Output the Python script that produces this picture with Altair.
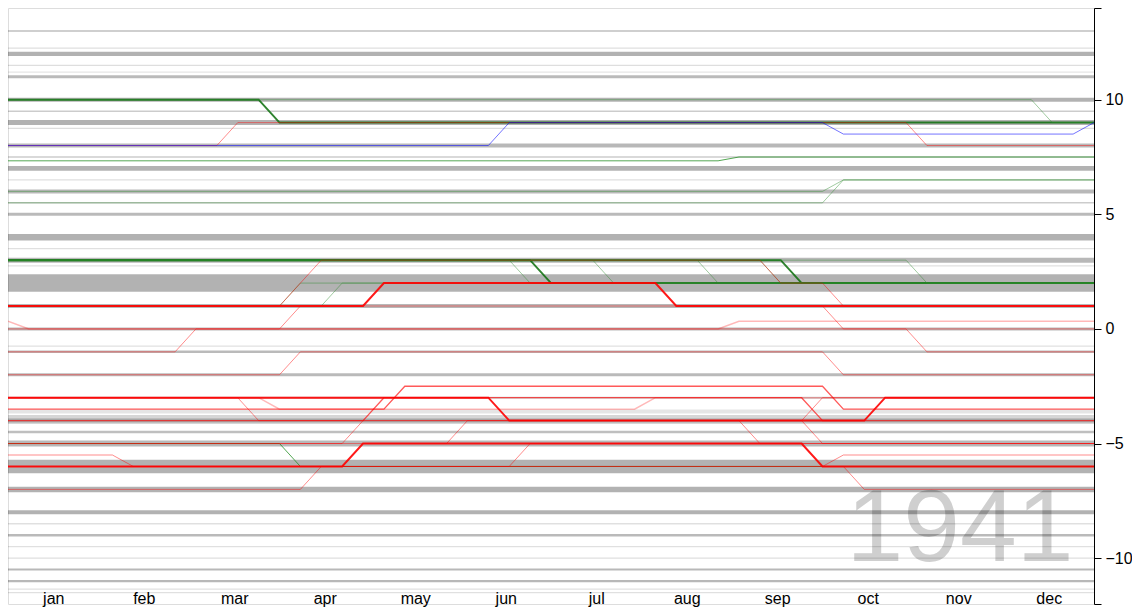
import altair as alt
import pandas as pd

# ---------------------------------------------------------------- data ----
YEAR = "1941"
MONTHS = ["jan", "feb", "mar", "apr", "may", "jun",
          "jul", "aug", "sep", "oct", "nov", "dec"]
WEEKS_IN_YEAR = 52
Y_TICKS = [-12, -10, -5, 0, 5, 10, 14]

# UTC offsets (hours) of the zones that keep the same offset all year
STATIC_OFFSETS = [13, 12.25, 12, 11.5, 11.2, 11, 10, 9.5, 9, 8.75, 8, 7.5, 7,
                  6.5, 6, 5.5, 5, 4, 3.5, 3, 2.75, 2, 1, 0, -0.75, -1, -2, -3,
                  -3.6, -3.95, -4, -4.5, -5, -6, -7, -8, -8.5, -9, -9.5, -10,
                  -10.5, -11, -11.35, -11.5]

# zones whose offset changes during the year: (week, offset) vertices
Z_T1 = [(0, 10), (12, 10), (13, 9), (52, 9)]
Z_T2 = [(0, 10), (49, 10), (50, 9), (52, 9)]
Z_T3 = [(0, 8), (10, 8), (11, 9), (43, 9), (44, 8), (52, 8)]
Z_T4 = [(0, 8), (23, 8), (24, 9), (39, 9), (40, 8.5), (51, 8.5), (52, 9)]
Z_T5 = [(0, 7.333), (34, 7.333), (35, 7.5), (52, 7.5)]
Z_T6 = [(0, 6), (39, 6), (40, 6.5), (52, 6.5)]
Z_T7 = [(0, 5.5), (39, 5.5), (40, 6.5), (52, 6.5)]
Z_M1 = [(0, 3), (25, 3), (26, 2), (52, 2)]
Z_M2 = [(0, 3), (37, 3), (38, 2), (52, 2)]
Z_M3 = [(0, 3), (24, 3), (25, 2), (52, 2)]
Z_M4 = [(0, 3), (28, 3), (29, 2), (52, 2)]
Z_M5 = [(0, 3), (33, 3), (34, 2), (52, 2)]
Z_M6 = [(0, 3), (43, 3), (44, 2), (52, 2)]
Z_M7 = [(0, 1), (13, 1), (15, 3), (36, 3), (37, 2), (39, 2), (40, 1), (52, 1)]
Z_M8 = [(0, 3), (36, 3), (37, 2), (52, 2)]
Z_M9 = [(0, 1), (13, 1), (14, 2), (52, 2)]
Z_M10 = [(0, 1), (15, 1), (16, 2), (52, 2)]
Z_H = [(0, 1), (17, 1), (18, 2), (31, 2), (32, 1), (52, 1)]
Z_A = [(0, -1), (8, -1), (9, 0), (43, 0), (44, -1), (52, -1)]
Z_B = [(0, -2), (13, -2), (14, -1), (39, -1), (40, -2), (52, -2)]
Z_C = [(0, 0), (13, 0), (14, 1), (39, 1), (40, 0), (52, 0)]
Z_D = [(0, 0.333), (1, 0), (34, 0), (35, 0.333), (52, 0.333)]
Z_LA = [(0, -3), (11, -3), (12, -4), (38, -4), (39, -3), (52, -3)]
Z_LB = [(0, -3), (12, -3), (13, -3.5), (30, -3.5), (31, -3), (52, -3)]
Z_LC = [(0, -3.5), (18, -3.5), (19, -2.5), (39, -2.5), (40, -3.5), (52, -3.5)]
Z_LD = [(0, -5), (13, -5), (14, -6), (52, -6)]
Z_LE = [(0, -7), (14, -7), (15, -6), (40, -6), (41, -7), (52, -7)]
Z_LF = [(0, -5), (16, -5), (17, -4), (38, -4), (39, -5), (52, -5)]
Z_LG = [(0, -4), (17, -4), (18, -3), (38, -3), (39, -4), (52, -4)]
Z_LH = [(0, -3), (23, -3), (24, -4), (41, -4), (42, -3), (52, -3)]
Z_LI = [(0, -6), (16, -6), (17, -5), (38, -5), (39, -6), (52, -6)]
Z_LJ = [(0, -5), (21, -5), (22, -4), (35, -4), (36, -5), (52, -5)]
Z_LK = [(0, -6), (24, -6), (25, -5), (52, -5)]
Z_LL = [(0, -5.5), (5, -5.5), (6, -6), (39, -6), (40, -5.5), (52, -5.5)]

ZONES = {
    "T1": Z_T1, "T2": Z_T2, "T3": Z_T3, "T4": Z_T4, "T5": Z_T5, "T6": Z_T6,
    "T7": Z_T7, "M1": Z_M1, "M2": Z_M2, "M3": Z_M3, "M4": Z_M4, "M5": Z_M5,
    "M6": Z_M6, "M8": Z_M8, "M9": Z_M9, "M10": Z_M10, "M7": Z_M7, "H": Z_H,
    "A": Z_A, "B": Z_B, "C": Z_C, "D": Z_D, "LA": Z_LA, "LB": Z_LB,
    "LC": Z_LC, "LD": Z_LD, "LE": Z_LE, "LF": Z_LF, "LG": Z_LG, "LH": Z_LH,
    "LI": Z_LI, "LJ": Z_LJ, "LK": Z_LK, "LL": Z_LL,
}

# -------------------------------------------------------------- styles ----
# gray static lines: (stroke width, alpha of black)
GRAY_STYLE = {
    13: (1.5, 0.25), 12.25: (1.2, 0.13), 12: (4.3, 0.3), 11.5: (1.2, 0.13),
    11.2: (1.2, 0.1), 11: (3, 0.27), 10: (4, 0.3), 9.5: (1.5, 0.2),
    9: (5, 0.3), 8.75: (1.2, 0.13), 8: (4, 0.28), 7.5: (1.5, 0.2),
    7: (4.7, 0.3), 6.5: (1.3, 0.13), 6: (4, 0.28), 5.5: (1.5, 0.2),
    5: (3, 0.27), 4: (6.5, 0.3), 3.5: (1.3, 0.12), 3: (5, 0.28),
    2.75: (1.3, 0.12), 2: (17.5, 0.3), 1: (4, 0.28), 0: (3, 0.28),
    -0.75: (1.3, 0.12), -1: (2.5, 0.27), -2: (3, 0.27), -3: (2, 0.2),
    -3.6: (4, 0.1), -3.95: (9, 0.16), -4: (4, 0.22), -4.5: (2.5, 0.25),
    -5: (6, 0.28), -6: (13.5, 0.3), -7: (5.5, 0.3), -8: (4, 0.3),
    -8.5: (1.3, 0.12), -9: (2.7, 0.27), -9.5: (1.3, 0.12), -10: (1.3, 0.13),
    -10.5: (2, 0.28), -11: (2.3, 0.28), -11.35: (1.3, 0.12),
    -11.5: (1.3, 0.12),
}
KIND_STYLE = {  # colour, opacity, width
    "dark_green": ("#0b6d0b", 0.85, 2.0),
    "green": ("#1a8a1a", 0.75, 1.0),
    "light_green": ("#2e8b2e", 0.45, 1.0),
    "red": ("#ff0000", 0.9, 2.0),
    "mid_red": ("#ff0000", 0.65, 1.3),
    "pink": ("#ff0000", 0.45, 1.0),
    "pale_pink": ("#ff0000", 0.28, 1.5),
    "blue": ("#0000ff", 0.55, 1.0),
}
ZONE_KIND = {
    "T1": "dark_green", "T2": "light_green", "T3": "pink", "T4": "blue",
    "T5": "green", "T6": "light_green", "T7": "light_green",
    "M1": "dark_green", "M2": "dark_green", "M3": "light_green",
    "M4": "light_green", "M5": "light_green", "M6": "light_green",
    "M8": "light_green", "M9": "light_green", "M10": "light_green",
    "M7": "pink", "H": "red", "A": "pink", "B": "pink", "C": "pink",
    "D": "pale_pink", "LA": "pink", "LB": "pale_pink", "LC": "mid_red",
    "LD": "green", "LE": "pink", "LF": "pink", "LG": "mid_red", "LH": "red",
    "LI": "red", "LJ": "pink", "LK": "pink", "LL": "pink",
}
FONT = "Liberation Sans"

# --------------------------------------------------------------- frames ---
gray_df = pd.DataFrame({
    "offset": STATIC_OFFSETS,
    "width": [GRAY_STYLE[v][0] for v in STATIC_OFFSETS],
    "alpha": [GRAY_STYLE[v][1] for v in STATIC_OFFSETS],
})

rows = []
for name, verts in ZONES.items():
    col, alpha, width = KIND_STYLE[ZONE_KIND[name]]
    for i, (w, v) in enumerate(verts):
        rows.append({"zone": name, "seq": i, "week": w, "offset": v,
                     "color": col, "alpha": alpha, "width": width})
zone_df = pd.DataFrame(rows)

month_mid = [(i + 0.5) * WEEKS_IN_YEAR / len(MONTHS) for i in range(len(MONTHS))]
month_expr = ("[" + ",".join("'%s'" % m for m in MONTHS) + "]"
              "[round(datum.value * %d / %d - 0.5)]" % (len(MONTHS), WEEKS_IN_YEAR))

x_scale = alt.Scale(domain=[0, WEEKS_IN_YEAR], nice=False, zero=False)
y_scale = alt.Scale(domain=[-12, 14], nice=False, zero=False)

x_axis = alt.Axis(values=month_mid, labelExpr=month_expr, domain=False,
                  ticks=False, tickSize=0, grid=False, labelFontSize=16,
                  labelFont=FONT, labelColor="black", offset=-14,
                  labelPadding=0, labelFlush=False, labelOverlap=False,
                  labelBound=False)
y_axis = alt.Axis(orient="right", values=Y_TICKS,
                  labelExpr="(datum.value == -12 || datum.value == 14) ? '' : datum.label",
                  tickSize=7, tickColor="black", domainColor="black",
                  tickWidth=1, domainWidth=1, labelFontSize=16, labelFont=FONT,
                  labelColor="black", grid=False, labelPadding=4)

# ---------------------------------------------------------------- marks ---
year_text = alt.Chart(pd.DataFrame({"label": [YEAR]})).mark_text(
    font=FONT, fontSize=102, color="#cfcfcf", align="center",
    baseline="alphabetic"
).encode(text="label:N", x=alt.value(952), y=alt.value(553))

gray = alt.Chart(gray_df).mark_rule().encode(
    y=alt.Y("offset:Q", scale=y_scale, axis=y_axis, title=None),
    color=alt.value("black"),
    opacity=alt.Opacity("alpha:Q", scale=None),
    strokeWidth=alt.StrokeWidth("width:Q", scale=None),
)

zones = alt.Chart(zone_df).mark_line().encode(
    x=alt.X("week:Q", scale=x_scale, axis=x_axis, title=None),
    y=alt.Y("offset:Q", scale=y_scale, axis=y_axis, title=None),
    detail="zone:N",
    order="seq:Q",
    color=alt.Color("color:N", scale=None),
    opacity=alt.Opacity("alpha:Q", scale=None),
    strokeWidth=alt.StrokeWidth("width:Q", scale=None),
)

chart = alt.layer(year_text, gray, zones).properties(
    width=1086, height=596,
    autosize=alt.AutoSizeParams(type="none"),
    padding={"left": 0, "top": 0, "right": 38, "bottom": 3},
).configure_view(strokeWidth=0).configure(background="white")

chart.save("out.html", embed_options={"renderer": "svg", "actions": False})
